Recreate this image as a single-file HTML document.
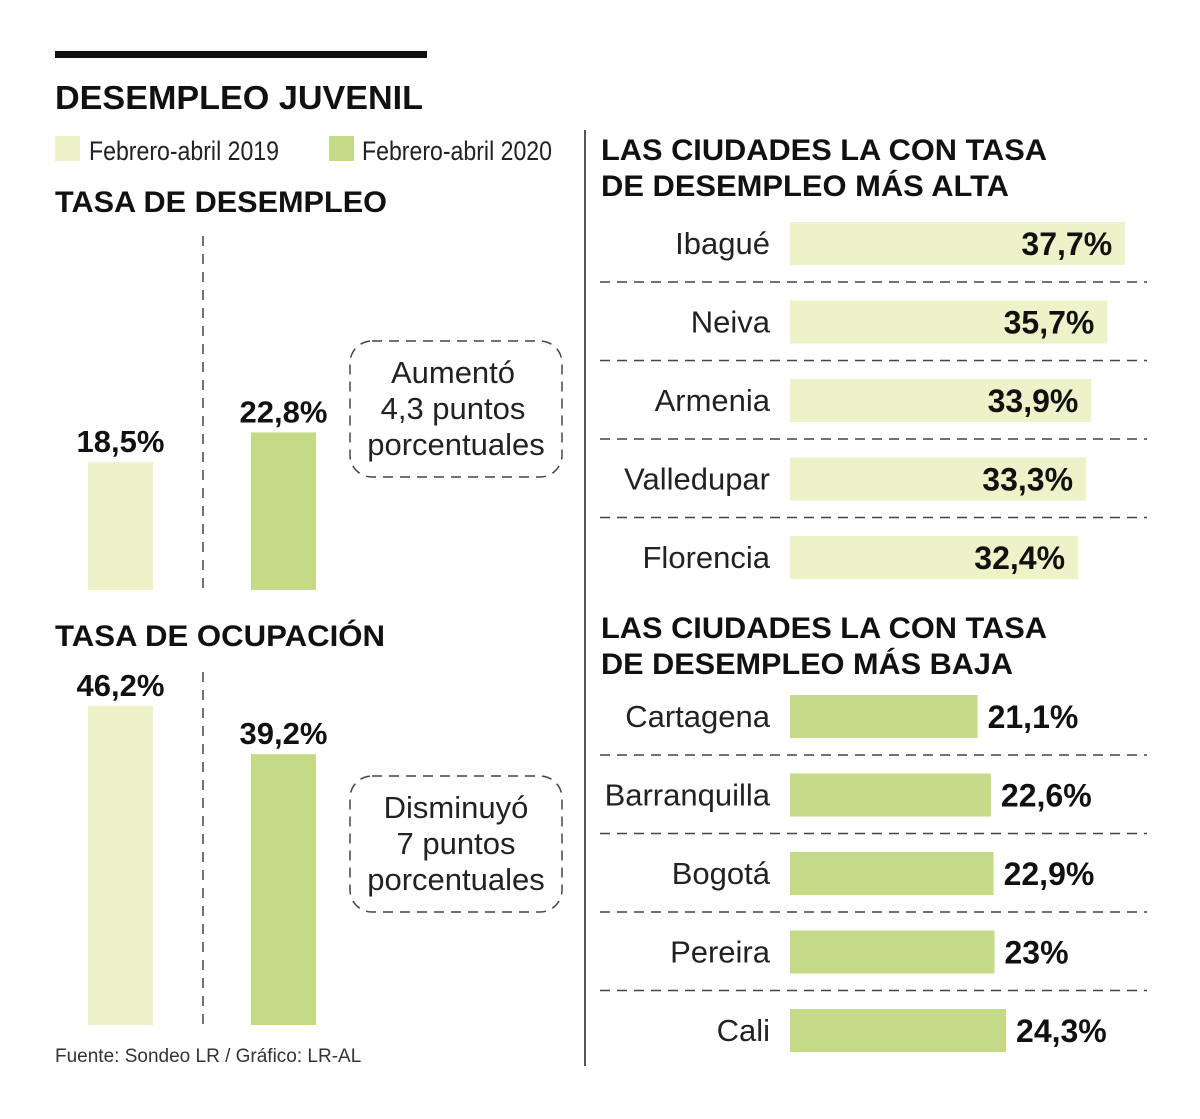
<!DOCTYPE html>
<html><head><meta charset="utf-8">
<style>
html,body{margin:0;padding:0;background:#fff;}
svg{display:block;font-family:"Liberation Sans",sans-serif;}
.h{font-weight:bold;fill:#111;}
.lt{fill:#222;}
</style></head>
<body>
<svg id="chart" width="1200" height="1119" viewBox="0 0 1200 1119" xmlns="http://www.w3.org/2000/svg">
<rect x="55" y="51" width="372" height="7" fill="#111"/>
<text x="55" y="109" class="h" font-size="33" textLength="368" lengthAdjust="spacingAndGlyphs">DESEMPLEO JUVENIL</text>
<g>
<rect x="55" y="136" width="25" height="25" fill="#eef2c8"/>
<text x="89" y="160" class="lt" font-size="27" textLength="190" lengthAdjust="spacingAndGlyphs">Febrero-abril 2019</text>
<rect x="329" y="136" width="25" height="25" fill="#c5da86"/>
<text x="362" y="160" class="lt" font-size="27" textLength="190" lengthAdjust="spacingAndGlyphs">Febrero-abril 2020</text>
</g>
<text x="55" y="212" class="h" font-size="30" textLength="332" lengthAdjust="spacingAndGlyphs">TASA DE DESEMPLEO</text>
<text x="55" y="646" class="h" font-size="30" textLength="330" lengthAdjust="spacingAndGlyphs">TASA DE OCUPACIÓN</text>
<line x1="585" y1="130" x2="585" y2="1066" stroke="#555" stroke-width="2"/>
<line x1="203" y1="236" x2="203" y2="590" stroke="#444" stroke-width="1.5" stroke-dasharray="10,8"/>
<line x1="203" y1="672" x2="203" y2="1025" stroke="#444" stroke-width="1.5" stroke-dasharray="10,8"/>
<g>
<rect x="350" y="341" width="212" height="136" rx="22" fill="none" stroke="#444" stroke-width="1.5" stroke-dasharray="10,7"/>
<text x="453" y="383" text-anchor="middle" font-size="31" class="lt">Aumentó</text>
<text x="453" y="419" text-anchor="middle" font-size="31" class="lt">4,3 puntos</text>
<text x="456" y="455" text-anchor="middle" font-size="31" class="lt">porcentuales</text>
</g>
<g>
<rect x="350" y="776" width="212" height="136" rx="22" fill="none" stroke="#444" stroke-width="1.5" stroke-dasharray="10,7"/>
<text x="456" y="818" text-anchor="middle" font-size="31" class="lt">Disminuyó</text>
<text x="456" y="854" text-anchor="middle" font-size="31" class="lt">7 puntos</text>
<text x="456" y="890" text-anchor="middle" font-size="31" class="lt">porcentuales</text>
</g>
<text x="601" y="160" class="h" font-size="30" textLength="446" lengthAdjust="spacingAndGlyphs">LAS CIUDADES LA CON TASA</text>
<text x="601" y="196" class="h" font-size="30" textLength="408" lengthAdjust="spacingAndGlyphs">DE DESEMPLEO MÁS ALTA</text>
<text x="601" y="638" class="h" font-size="30" textLength="446" lengthAdjust="spacingAndGlyphs">LAS CIUDADES LA CON TASA</text>
<text x="601" y="674" class="h" font-size="30" textLength="412" lengthAdjust="spacingAndGlyphs">DE DESEMPLEO MÁS BAJA</text>
<text x="55" y="1062" font-size="19" fill="#333">Fuente: Sondeo LR / Gráfico: LR-AL</text>
<g id="marks"></g>
</svg>
<script>
const periods = ["Febrero-abril 2019", "Febrero-abril 2020"];
const desempleo = [18.5, 22.8];
const ocupacion = [46.2, 39.2];
const altaCities = ["Ibagué", "Neiva", "Armenia", "Valledupar", "Florencia"];
const altaValues = [37.7, 35.7, 33.9, 33.3, 32.4];
const bajaCities = ["Cartagena", "Barranquilla", "Bogotá", "Pereira", "Cali"];
const bajaValues = [21.1, 22.6, 22.9, 23, 24.3];

const NS = "http://www.w3.org/2000/svg";
const g = document.getElementById("marks");
const colors = ["#eef2c8", "#c5da86"];
function fmt(v){ return String(v).replace(".", ",") + "%"; }
function mk(tag, attrs, txt){
  const e = document.createElementNS(NS, tag);
  for (const k in attrs) e.setAttribute(k, attrs[k]);
  if (txt !== undefined) e.textContent = txt;
  g.appendChild(e);
  return e;
}
const vScale = v => v * 6.91;
const vx = i => 88 + i * 163;
function vChart(vals, base, prefix){
  vals.forEach((v, i) => {
    const h = vScale(v);
    const r = mk("rect", {x: vx(i), y: base - h, width: 65, height: h, fill: colors[i]});
    
    
    const t = mk("text", {x: vx(i) + 32.5, y: base - h - 10, "text-anchor": "middle", "font-size": 31, "font-weight": "bold", fill: "#111"}, fmt(v));
    
    
  });
}
vChart(desempleo, 590, "desempleo");
vChart(ocupacion, 1025, "ocupacion");
const hScale = v => v * 8.89;
function hChart(cities, vals, top0, inside, color, prefix){
  cities.forEach((c, i) => {
    const y = top0 + i * 78.5;
    const w = hScale(vals[i]);
    const r = mk("rect", {x: 790, y: y, width: w, height: 43, fill: color});
    
    
    const l = mk("text", {x: 770, y: y + 32, "text-anchor": "end", "font-size": 31, fill: "#222"}, c);
    
    
    const t = inside
      ? mk("text", {x: 790 + w - 13, y: y + 33, "text-anchor": "end", "font-size": 32, "font-weight": "bold", fill: "#111"}, fmt(vals[i]))
      : mk("text", {x: 790 + w + 10, y: y + 33, "font-size": 32, "font-weight": "bold", fill: "#111"}, fmt(vals[i]));
    
    
    if (i < cities.length - 1) {
      const d = mk("line", {x1: 600, x2: 1147, y1: y + 60, y2: y + 60, stroke: "#444", "stroke-width": 1.5, "stroke-dasharray": "10,7"});
      
      
    }
  });
}
hChart(altaCities, altaValues, 222, true, colors[0], "alta");
hChart(bajaCities, bajaValues, 695, false, colors[1], "baja");
</script>
</body></html>
